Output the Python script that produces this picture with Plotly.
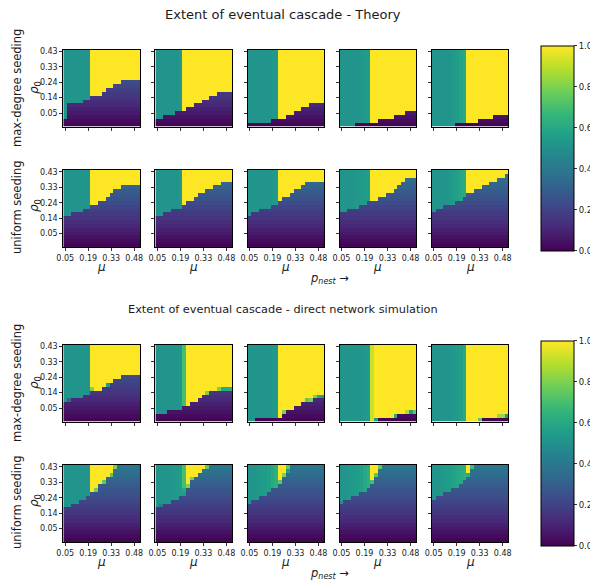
import plotly.graph_objects as go

# page is 598x580; the browser body keeps an 8px margin, so the figure is 590x572
OFF = 8
W, H = 598 - OFF, 580 - OFF

# ---------------- data ----------------
MU_IDX = list(range(20))          # 20 mu grid points (columns)
RHO_IDX = list(range(20))         # 20 rho0 grid points (rows)
MU_TICK_POS = [0, 6, 12, 18]
MU_TICKS = ['0.05', '0.19', '0.33', '0.48']
RHO_TICK_POS = [3, 7, 11, 15, 19]
RHO_TICKS = ['0.05', '0.14', '0.24', '0.33', '0.43']
CBAR_TICKS = [0.0, 0.2, 0.4, 0.6, 0.8, 1.0]

# value of the non-cascading region for each rho0 row (bottom -> top)
BASE_ROW = [0.01, 0.03, 0.05, 0.07, 0.09, 0.11, 0.13, 0.15, 0.17, 0.19,
            0.21, 0.23, 0.25, 0.27, 0.29, 0.31, 0.33, 0.35, 0.37, 0.39]
CASCADE = 1.0

# Theory, max-degree seeding: rows of non-cascade per mu column
TM_LOW = [
    [2, 6, 6, 6, 6, 7, 7, 8, 8, 8, 9, 10, 10, 11, 11, 12, 12, 12, 12, 12],
    [2, 2, 3, 3, 3, 4, 4, 4, 5, 5, 6, 6, 7, 7, 8, 8, 9, 9, 9, 9],
    [1, 1, 1, 1, 1, 1, 2, 2, 2, 2, 3, 3, 4, 4, 5, 5, 6, 6, 6, 6],
    [0, 0, 0, 0, 1, 1, 1, 1, 1, 1, 2, 2, 2, 2, 3, 3, 3, 4, 4, 4],
    [0, 0, 0, 0, 0, 0, 1, 1, 1, 1, 1, 1, 2, 2, 2, 2, 3, 3, 3, 3]]
TM_TEAL = [
    [0.52, 0.52, 0.52, 0.52, 0.52, 0.52, 0.52],
    [0.52, 0.52, 0.52, 0.52, 0.52, 0.52, 0.53],
    [0.52, 0.52, 0.52, 0.52, 0.52, 0.52, 0.53, 0.53],
    [0.52, 0.52, 0.52, 0.52, 0.52, 0.53, 0.54, 0.55],
    [0.52, 0.52, 0.52, 0.52, 0.52, 0.53, 0.56, 0.58, 0.60]]
TM_SPECIAL = [[], [], [], [], []]

# Theory, uniform seeding
TU_LOW = [
    [8, 8, 9, 9, 9, 10, 10, 11, 11, 12, 12, 13, 14, 15, 15, 16, 16, 16, 16, 16],
    [8, 8, 9, 9, 10, 10, 10, 11, 12, 12, 13, 14, 14, 15, 15, 16, 16, 17, 17, 17],
    [8, 9, 9, 10, 10, 10, 11, 11, 12, 13, 13, 14, 15, 15, 16, 17, 17, 17, 17, 17],
    [9, 9, 10, 10, 10, 11, 11, 12, 12, 12, 13, 13, 14, 14, 15, 16, 17, 18, 18, 18],
    [9, 10, 10, 11, 11, 11, 12, 12, 13, 14, 14, 15, 15, 16, 16, 17, 17, 18, 18, 19]]
TU_TEAL = [
    [0.52, 0.52, 0.52, 0.52, 0.52, 0.52, 0.52],
    [0.52, 0.52, 0.52, 0.52, 0.52, 0.52, 0.53],
    [0.52, 0.52, 0.52, 0.52, 0.52, 0.52, 0.53, 0.54],
    [0.52, 0.52, 0.52, 0.52, 0.53, 0.54, 0.55, 0.56],
    [0.52, 0.52, 0.52, 0.52, 0.53, 0.55, 0.57, 0.59, 0.61]]
TU_SPECIAL = [[], [], [], [], []]

# Simulation, max-degree seeding
SM_LOW = [
    [5, 6, 6, 6, 6, 7, 7, 8, 8, 8, 9, 9, 10, 11, 11, 12, 12, 12, 12, 12],
    [2, 2, 2, 3, 3, 3, 3, 4, 4, 5, 5, 6, 7, 7, 8, 8, 8, 8, 8, 8],
    [0, 0, 1, 1, 1, 1, 1, 1, 1, 2, 3, 3, 4, 4, 5, 5, 5, 6, 6, 6],
    [0, 0, 0, 0, 0, 0, 0, 0, 0, 1, 1, 1, 1, 1, 2, 2, 2, 2, 2, 2],
    [0, 0, 0, 0, 0, 0, 0, 0, 0, 0, 0, 0, 0, 1, 1, 1, 1, 1, 1, 1]]
SM_TEAL = [
    [0.52, 0.52, 0.52, 0.52, 0.52, 0.52, 0.52],
    [0.52, 0.52, 0.52, 0.52, 0.52, 0.52, 0.53, 0.70],
    [0.52, 0.52, 0.52, 0.52, 0.52, 0.52, 0.53, 0.53],
    [0.52, 0.52, 0.52, 0.52, 0.52, 0.52, 0.53, 0.54, 0.92],
    [0.52, 0.52, 0.52, 0.52, 0.52, 0.53, 0.55, 0.57, 0.60]]
SM_SPECIAL = [
    [(1, 5, 0.33), (7, 8, 0.80), (11, 9, 0.55)],
    [(13, 7, 0.80), (16, 8, 0.80), (17, 8, 0.60), (18, 8, 0.60), (19, 8, 0.62)],
    [(9, 2, 0.80), (15, 5, 0.75), (16, 5, 0.80), (17, 6, 0.80), (18, 6, 0.60), (19, 6, 0.55)],
    [(9, 0, 0.55), (14, 1, 0.60), (17, 2, 0.88), (18, 2, 0.55), (19, 2, 0.75)],
    [(12, 0, 0.75), (17, 1, 0.85), (18, 1, 0.85), (19, 1, 0.55)]]

# Simulation, uniform seeding
SU_LOW = [
    [9, 9, 10, 10, 11, 11, 12, 13, 14, 15, 16, 17, 18, 19, 20, 20, 20, 20, 20, 20],
    [9, 9, 10, 10, 11, 11, 12, 12, 14, 16, 17, 18, 19, 19, 20, 20, 20, 20, 20, 20],
    [10, 11, 11, 12, 12, 13, 14, 14, 15, 17, 18, 20, 20, 20, 20, 20, 20, 20, 20, 20],
    [10, 11, 11, 12, 12, 13, 13, 14, 15, 17, 19, 20, 20, 20, 20, 20, 20, 20, 20, 20],
    [11, 12, 12, 13, 13, 14, 14, 15, 16, 17, 19, 20, 20, 20, 20, 20, 20, 20, 20, 20]]
SU_TEAL = [
    [0.52, 0.52, 0.52, 0.52, 0.52, 0.52, 0.52],
    [0.52, 0.52, 0.52, 0.52, 0.53, 0.54, 0.56, 0.70],
    [0.52, 0.52, 0.53, 0.54, 0.55, 0.57, 0.60, 0.63],
    [0.52, 0.52, 0.53, 0.54, 0.55, 0.57, 0.60, 0.63],
    [0.52, 0.52, 0.53, 0.54, 0.55, 0.57, 0.59, 0.61, 0.63]]
SU_SPECIAL = [
    [(8, 13, 0.78), (10, 15, 0.75), (12, 17, 0.75), (13, 19, 0.80)],
    [(1, 9, 0.40), (7, 12, 0.55), (7, 13, 0.60), (8, 14, 0.80), (9, 16, 0.80), (13, 19, 0.75)],
    [(8, 15, 0.75), (9, 17, 0.80), (10, 18, 0.55), (10, 19, 0.75)],
    [(8, 15, 0.70), (9, 17, 0.75), (10, 19, 0.75)],
    [(9, 17, 0.62), (10, 19, 0.70)]]

TITLES = ['Extent of eventual cascade - Theory',
          'Extent of eventual cascade - direct network simulation']
TITLE_SIZES = [13, 11.3]
ROW_LABELS = ['max-degree seeding', 'uniform seeding']


def build(low, teal, special):
    split = len(teal)
    z = []
    for r in RHO_IDX:
        row = []
        for c in MU_IDX:
            if r < low[c]:
                row.append(BASE_ROW[r])
            elif c < split:
                row.append(teal[c])
            else:
                row.append(CASCADE)
        z.append(row)
    for c, r, v in special:
        z[r][c] = v
    return z


def fx(px):   # page pixel x -> paper fraction
    return (px - OFF) / W


def fy(py):   # page pixel y -> paper fraction
    return 1 - (py - OFF) / H


FONT = 'DejaVu Sans'
TXT = '#1a1a1a'
fig = go.Figure()

groups = [(TM_LOW, TM_TEAL, TM_SPECIAL), (TU_LOW, TU_TEAL, TU_SPECIAL),
          (SM_LOW, SM_TEAL, SM_SPECIAL), (SU_LOW, SU_TEAL, SU_SPECIAL)]
tops = [49.5, 170.0, 344.5, 465.0]
PW, PH = 76.7, 77.0
lefts = [63.3 + 92.1 * i for i in range(5)]

layout_axes = {}
for g, (lows, teals, specs) in enumerate(groups):
    for i in range(5):
        n = g * 5 + i + 1
        sfx = '' if n == 1 else str(n)
        z = build(lows[i], teals[i], specs[i])
        fig.add_trace(go.Heatmap(
            z=z, x=MU_IDX, y=RHO_IDX,
            coloraxis='coloraxis' if g < 2 else 'coloraxis2',
            xaxis='x' + sfx, yaxis='y' + sfx, hoverinfo='skip'))
        common = dict(showgrid=False, zeroline=False, showline=True, mirror=True,
                      linecolor='black', linewidth=1, ticks='outside', ticklen=3,
                      tickwidth=1, tickcolor='#333', fixedrange=True,
                      tickfont=dict(family=FONT, size=8, color=TXT))
        layout_axes['xaxis' + sfx] = dict(
            domain=[fx(lefts[i]), fx(lefts[i] + PW)], anchor='y' + sfx, range=[-0.5, 19.5],
            tickmode='array', tickvals=MU_TICK_POS, ticktext=MU_TICKS,
            showticklabels=(g % 2 == 1), **common)
        layout_axes['yaxis' + sfx] = dict(
            domain=[fy(tops[g] + PH), fy(tops[g])], anchor='x' + sfx, range=[-0.5, 19.5],
            tickmode='array', tickvals=RHO_TICK_POS, ticktext=RHO_TICKS,
            showticklabels=(i == 0), **common)

fig.update_layout(**layout_axes)


def cbar(yc):
    return dict(colorscale='Viridis', cmin=0, cmax=1,
                colorbar=dict(thickness=32.6, len=205.3, lenmode='pixels',
                              x=fx(540.7), xanchor='left', xpad=0, ypad=0,
                              y=fy(yc), yanchor='middle',
                              outlinecolor='black', outlinewidth=1,
                              tickmode='array', tickvals=CBAR_TICKS,
                              ticktext=['%.1f' % t for t in CBAR_TICKS],
                              ticks='outside', ticklen=3, tickcolor='#333',
                              tickfont=dict(family=FONT, size=8.5, color=TXT)))


anns = []


def ann(text, px, py, size, angle=0):
    anns.append(dict(text=text, x=fx(px), y=fy(py), xref='paper', yref='paper',
                     showarrow=False, textangle=angle, xanchor='center', yanchor='middle',
                     font=dict(family=FONT, size=size, color=TXT)))


for k, off in enumerate([0, 295]):
    ann(TITLES[k], 283, 14 + off, TITLE_SIZES[k])
    ann(ROW_LABELS[0], 17, 88 + off, 11.5, -90)
    ann(ROW_LABELS[1], 17, 208 + off, 11.5, -90)
    ann('<i>ρ</i><sub>0</sub>', 35, 88 + off, 12, -90)
    ann('<i>ρ</i><sub>0</sub>', 35, 206 + off, 12, -90)
    for i in range(5):
        ann('<i>μ</i>', lefts[i] + PW / 2, 267 + off, 12)
    ann('<i>p</i><sub><i>nest</i></sub> →', 330, 278 + off, 11.5)

fig.update_layout(
    width=W, height=H, margin=dict(l=0, r=0, t=0, b=0, autoexpand=False),
    paper_bgcolor='white', plot_bgcolor='white', showlegend=False,
    coloraxis=cbar(148.35), coloraxis2=cbar(443.35),
    annotations=anns, font=dict(family=FONT, color=TXT))

fig.write_html('out.html')
